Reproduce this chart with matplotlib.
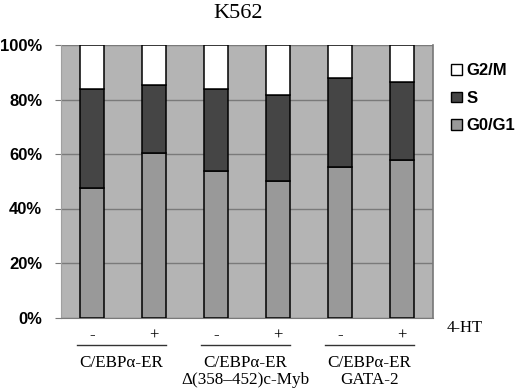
import matplotlib
matplotlib.use("Agg")
import matplotlib.pyplot as plt
import matplotlib.transforms as mtransforms
from matplotlib.patches import Patch
import numpy as np

# cell cycle distribution (%) for K562 transfectants, -/+ 4-HT
treatment = ['-', '+', '-', '+', '-', '+']
groups = ['C/EBP\u03b1-ER', 'C/EBP\u03b1-ER\n\u0394(358\u2013452)c-Myb', 'C/EBP\u03b1-ER\nGATA-2']
g0g1 = [47.6, 60.3, 53.8, 50.1, 55.3, 57.8]
s_phase = [36.3, 24.9, 30.1, 31.6, 32.7, 28.7]
g2m = [100 - a - b for a, b in zip(g0g1, s_phase)]

c_g0g1 = '#999999'
c_s = '#454545'
c_g2m = '#ffffff'
c_bg = '#b4b4b4'

serif = ['Liberation Serif', 'DejaVu Serif']
sans = ['Liberation Sans', 'DejaVu Sans']

fig = plt.figure(figsize=(5.2, 3.9), dpi=100)
ax = fig.add_axes([61/520, 1 - 317.5/390, 372/520, 272.5/390])
ax.set_facecolor(c_bg)

x = np.arange(len(g0g1))
w = 0.4
kw = dict(width=w, edgecolor='black', linewidth=1.1, zorder=3)
ax.bar(x, g0g1, color=c_g0g1, **kw)
ax.bar(x, s_phase, bottom=g0g1, color=c_s, **kw)
ax.bar(x, g2m, bottom=np.add(g0g1, s_phase), color=c_g2m, **kw)

ax.set_xlim(-0.5, 5.5)
ax.set_ylim(0, 100)
ax.set_yticks(np.arange(0, 101, 20))
ax.set_yticklabels([f'{v}%' for v in range(0, 101, 20)], fontfamily=sans,
                   fontweight='bold', fontsize=12)
ax.yaxis.grid(True, color='#7a7a7a', linewidth=1, zorder=1)
ax.set_axisbelow(True)
ax.tick_params(axis='y', length=4, color='#7a7a7a', pad=9.5)

ax.set_xticks(x)
ax.set_xticklabels(treatment, fontfamily=serif, fontsize=12)
ax.tick_params(axis='x', length=0, pad=7)

ax.spines['top'].set_visible(False)
ax.spines['left'].set_color('#a0a0a0')
ax.spines['right'].set_color('#777777')
ax.spines['right'].set_linewidth(1.2)
ax.spines['bottom'].set_color('#7a7a7a')

ax.text(1.037, -0.04, '4-HT', transform=ax.transAxes, fontfamily=serif,
        fontsize=12, ha='left', va='center')

trans = mtransforms.blended_transform_factory(ax.transData, ax.transAxes)
for i, g in enumerate(groups):
    x0, x1 = 2 * i - 0.25, 2 * i + 1.2
    ax.plot([x0, x1], [-0.101, -0.101], color='#333333', linewidth=1,
            transform=trans, clip_on=False)
    ax.text(2 * i + 0.47, -0.138, g, transform=trans, fontfamily=serif,
            fontsize=12.3, ha='center', va='top', linespacing=1.05)

fig.text(238/520, 1 - 14/390, 'K562', fontfamily=serif, fontsize=16,
         ha='center', va='center')

handles = [Patch(facecolor=c_g2m, edgecolor='black', label='G2/M'),
           Patch(facecolor=c_s, edgecolor='black', label='S'),
           Patch(facecolor=c_g0g1, edgecolor='black', label='G0/G1')]
fig.legend(handles=handles, loc='upper left', bbox_to_anchor=(448/520, 1 - 60/390),
           frameon=False, prop={'family': sans, 'weight': 'bold', 'size': 12},
           handlelength=0.62, handleheight=0.62, handletextpad=0.3,
           labelspacing=0.75, borderpad=0.2, borderaxespad=0)

fig.savefig('out.png', dpi=100)
